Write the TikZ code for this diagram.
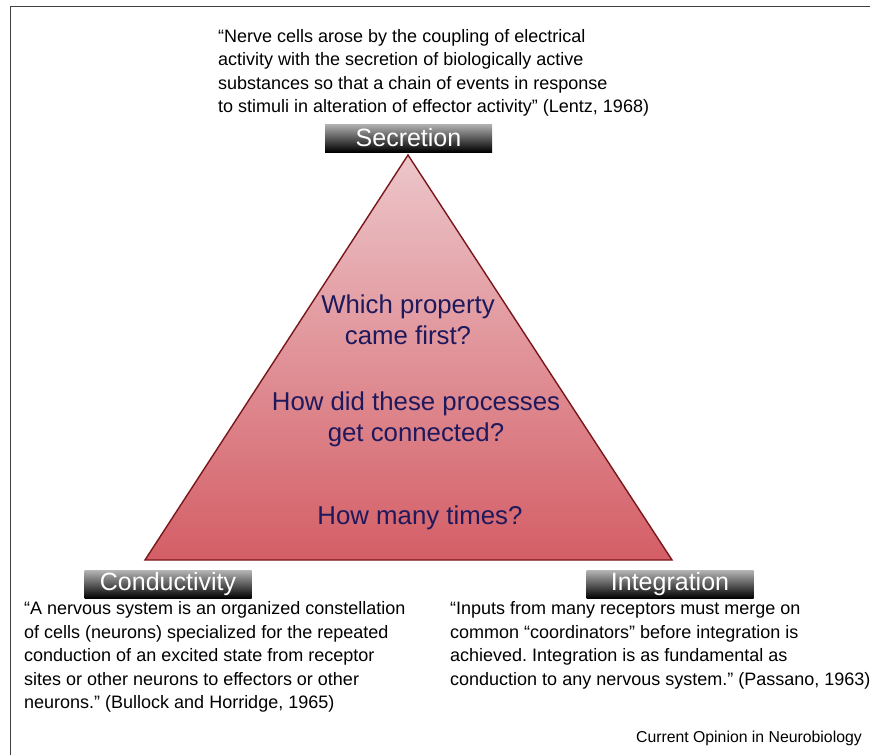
\documentclass[tikz,border=0pt]{standalone}
\usepackage{fontspec}
\setmainfont{Liberation Sans}
\frenchspacing
\definecolor{tritop}{RGB}{236,198,202}
\definecolor{tribot}{RGB}{212,94,102}
\definecolor{triedge}{RGB}{122,22,26}
\definecolor{askcol}{RGB}{30,24,92}
\tikzset{
  tag/.style={minimum width=167pt, minimum height=28pt, inner sep=0pt,
    top color=black!30, middle color=black!85, bottom color=black,
    text=white, font=\fontsize{25}{25}\selectfont},
  quote/.style={align=left, inner sep=0pt, font=\fontsize{18}{23.5}\selectfont},
  ask/.style={align=center, inner sep=0pt, text=askcol, font=\fontsize{25.8}{31}\selectfont}
}
\begin{document}
\begin{tikzpicture}[x=1pt, y=-1pt]
    \useasboundingbox (0,0) rectangle (870,755);

    % Frame
    \draw[line width=1.3pt, black!75] (10.5,755) -- (10.5,6.5) -- (870,6.5);

    % Corners of the triangle
    \coordinate (top) at (408,155);
    \coordinate (left) at (145,560);
    \coordinate (right) at (672,560);

    % Triangle
    \shade[top color=tritop, bottom color=tribot] (top) -- (left) -- (right) -- cycle;
    \draw[triedge, line width=1.4pt, line join=miter] (top) -- (left) -- (right) -- cycle;

    % Questions
    \node[ask] (first) at (408,320) {Which property\\came first?};
    \node[ask] (connect) at (416,419) {How did these processes\\get connected?};
    \node[ask] (times) at (420,518) {How many times?};

    % Properties
    \node[tag] (secretion) at (408.5,138) {Secretion};
    \node[tag] (conduct) at (168,584.5) {Conductivity};
    \node[tag] (integrate) at (670,584.5) {Integration};

    % Quotes
    \node[quote, anchor=north west] (lentz) at (218,29)
      {“Nerve cells arose by the coupling of electrical\\
       activity with the secretion of biologically active\\
       substances so that a chain of events in response\\
       to stimuli in alteration of effector activity” (Lentz, 1968)};
    \node[quote, anchor=north west] (bullock) at (24,601.5)
      {“A nervous system is an organized constellation\\
       of cells (neurons) specialized for the repeated\\
       conduction of an excited state from receptor\\
       sites or other neurons to effectors or other\\
       neurons.” (Bullock and Horridge, 1965)};
    \node[quote, anchor=north west] (passano) at (450,601.5)
      {“Inputs from many receptors must merge on\\
       common “coordinators” before integration is\\
       achieved. Integration is as fundamental as\\
       conduction to any nervous system.” (Passano, 1963)};

    \node[anchor=east, inner sep=0pt, font=\fontsize{15.8}{16}\selectfont] (journal) at (862,738)
      {Current Opinion in Neurobiology};
\end{tikzpicture}
\end{document}
